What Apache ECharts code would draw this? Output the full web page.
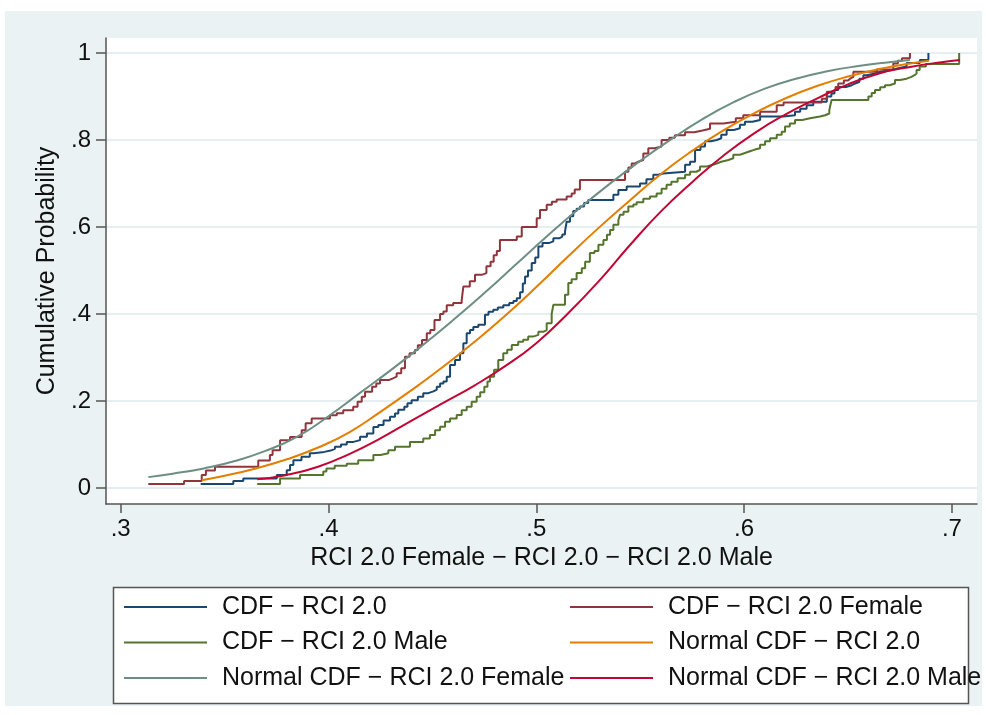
<!DOCTYPE html>
<html>
<head>
<meta charset="utf-8">
<script src="https://cdn.jsdelivr.net/npm/echarts@6.0.0/dist/echarts.min.js"></script>
<style>
html,body{margin:0;padding:0;background:#fff;}
#bg{position:absolute;left:5px;top:11px;width:977px;height:695px;background:#eaf2f3;}
#chart{position:absolute;left:0;top:0;width:986px;height:715px;}
</style>
</head>
<body>
<div id="bg"></div>
<div id="chart"></div>
<script>
// ---------- data ----------
const xTicks = [0.3, 0.4, 0.5, 0.6, 0.7];
const yTicks = [0, 0.2, 0.4, 0.6, 0.8, 1];

const seriesNames = [
  'CDF \u2212 RCI 2.0',
  'CDF \u2212 RCI 2.0 Female',
  'CDF \u2212 RCI 2.0 Male',
  'Normal CDF \u2212 RCI 2.0',
  'Normal CDF \u2212 RCI 2.0 Female',
  'Normal CDF \u2212 RCI 2.0 Male'
];

// empirical CDF, total
const totalX = [0.3385,0.3542,0.3590,0.3751,0.3799,0.3815,0.3831,0.3870,0.3910,0.3927,0.3980,0.4010,0.4031,0.4060,0.4088,0.4120,0.4152,0.4185,0.4216,0.4240,0.4265,0.4296,0.4320,0.4336,0.4365,0.4380,0.4400,0.4430,0.4456,0.4480,0.4505,0.4521,0.4537,0.4553,0.4569,0.4585,0.4609,0.4633,0.4649,0.4665,0.4681,0.4697,0.4721,0.4753,0.4770,0.4793,0.4815,0.4841,0.4870,0.4890,0.4906,0.4922,0.4935,0.4946,0.4960,0.4978,0.4995,0.5010,0.5030,0.5060,0.5082,0.5110,0.5125,0.5138,0.5146,0.5162,0.5178,0.5194,0.5210,0.5230,0.5250,0.5371,0.5395,0.5435,0.5499,0.5530,0.5563,0.5587,0.5611,0.5716,0.5740,0.5764,0.5790,0.5812,0.5840,0.5868,0.5890,0.5916,0.5950,0.5980,0.6004,0.6040,0.6077,0.6189,0.6245,0.6270,0.6301,0.6333,0.6398,0.6420,0.6435,0.6453,0.6490,0.6518,0.6535,0.6555,0.6574,0.6590,0.6630,0.6654,0.6710,0.6742,0.6782,0.6846,0.6887];
const totalF = [0.009,0.016,0.022,0.030,0.041,0.053,0.064,0.072,0.080,0.083,0.086,0.090,0.095,0.100,0.106,0.110,0.118,0.125,0.140,0.145,0.155,0.164,0.171,0.180,0.187,0.195,0.202,0.210,0.218,0.222,0.226,0.233,0.240,0.245,0.256,0.283,0.294,0.310,0.333,0.356,0.363,0.370,0.375,0.398,0.405,0.410,0.415,0.420,0.425,0.430,0.436,0.450,0.470,0.486,0.500,0.517,0.530,0.555,0.563,0.567,0.574,0.578,0.583,0.589,0.612,0.625,0.637,0.642,0.647,0.655,0.662,0.674,0.685,0.693,0.700,0.710,0.720,0.723,0.727,0.743,0.750,0.777,0.785,0.797,0.800,0.804,0.812,0.823,0.827,0.835,0.842,0.846,0.854,0.857,0.865,0.872,0.880,0.888,0.900,0.907,0.915,0.922,0.926,0.930,0.934,0.941,0.949,0.953,0.957,0.961,0.965,0.969,0.977,0.984,1.000];

// empirical CDF, female
const femaleX = [0.3133,0.3305,0.3390,0.3410,0.3454,0.3662,0.3718,0.3731,0.3767,0.3815,0.3871,0.3890,0.3919,0.4007,0.4040,0.4071,0.4119,0.4140,0.4160,0.4176,0.4210,0.4230,0.4248,0.4290,0.4310,0.4328,0.4350,0.4368,0.4390,0.4416,0.4430,0.4450,0.4473,0.4490,0.4510,0.4537,0.4553,0.4569,0.4600,0.4641,0.4649,0.4680,0.4705,0.4737,0.4760,0.4780,0.4795,0.4810,0.4825,0.4906,0.4930,0.5002,0.5018,0.5050,0.5075,0.5098,0.5146,0.5170,0.5185,0.5210,0.5427,0.5443,0.5459,0.5475,0.5491,0.5515,0.5539,0.5570,0.5603,0.5640,0.5667,0.5716,0.5760,0.5800,0.5836,0.5900,0.5960,0.5996,0.6077,0.6157,0.6190,0.6374,0.6398,0.6425,0.6440,0.6453,0.6480,0.6500,0.6510,0.6526,0.6640,0.6718,0.6740,0.6760,0.6798];
const femaleF = [0.009,0.016,0.030,0.040,0.049,0.063,0.076,0.087,0.110,0.117,0.133,0.149,0.160,0.167,0.172,0.179,0.187,0.198,0.210,0.221,0.233,0.240,0.248,0.252,0.256,0.264,0.275,0.302,0.310,0.317,0.328,0.340,0.356,0.363,0.386,0.400,0.406,0.420,0.425,0.432,0.463,0.475,0.490,0.494,0.510,0.520,0.535,0.545,0.570,0.578,0.600,0.620,0.639,0.651,0.658,0.663,0.670,0.677,0.686,0.708,0.727,0.737,0.746,0.750,0.754,0.769,0.781,0.785,0.800,0.805,0.811,0.818,0.822,0.826,0.838,0.842,0.850,0.857,0.865,0.880,0.886,0.895,0.911,0.915,0.922,0.930,0.937,0.941,0.945,0.957,0.962,0.976,0.982,0.988,1.000];

// empirical CDF, male
const maleX = [0.3657,0.3767,0.3863,0.3975,0.3990,0.4030,0.4088,0.4143,0.4216,0.4250,0.4288,0.4320,0.4392,0.4456,0.4488,0.4513,0.4537,0.4561,0.4585,0.4617,0.4641,0.4665,0.4689,0.4713,0.4730,0.4750,0.4765,0.4777,0.4797,0.4817,0.4841,0.4860,0.4882,0.4913,0.4937,0.4961,0.4985,0.5010,0.5034,0.5050,0.5074,0.5082,0.5138,0.5154,0.5170,0.5194,0.5219,0.5235,0.5258,0.5280,0.5299,0.5323,0.5340,0.5355,0.5371,0.5395,0.5403,0.5420,0.5443,0.5467,0.5483,0.5515,0.5547,0.5579,0.5603,0.5627,0.5650,0.5680,0.5716,0.5740,0.5770,0.5788,0.5820,0.5850,0.5868,0.5890,0.5924,0.5948,0.5980,0.6004,0.6028,0.6052,0.6077,0.6101,0.6125,0.6157,0.6181,0.6197,0.6220,0.6245,0.6280,0.6317,0.6365,0.6390,0.6410,0.6415,0.6421,0.6598,0.6614,0.6630,0.6655,0.6678,0.6700,0.6726,0.6750,0.6782,0.6805,0.6820,0.6830,0.6845,0.6875,0.7035];
const maleF = [0.009,0.022,0.030,0.038,0.045,0.051,0.056,0.064,0.076,0.080,0.087,0.095,0.106,0.114,0.122,0.133,0.141,0.152,0.160,0.168,0.179,0.187,0.198,0.210,0.220,0.233,0.245,0.256,0.272,0.294,0.310,0.318,0.329,0.336,0.341,0.348,0.352,0.359,0.363,0.379,0.400,0.421,0.444,0.471,0.480,0.494,0.505,0.520,0.540,0.545,0.559,0.570,0.582,0.593,0.605,0.616,0.628,0.635,0.647,0.652,0.657,0.665,0.670,0.677,0.688,0.697,0.704,0.712,0.720,0.727,0.731,0.739,0.743,0.746,0.750,0.754,0.758,0.766,0.770,0.774,0.778,0.781,0.789,0.797,0.804,0.812,0.819,0.831,0.838,0.846,0.850,0.854,0.857,0.861,0.868,0.880,0.892,0.900,0.908,0.915,0.921,0.926,0.930,0.938,0.941,0.945,0.949,0.953,0.961,0.969,0.975,1.000];

// normal CDF curves
const normTotalX = [0.339,0.350,0.365,0.380,0.395,0.410,0.425,0.440,0.455,0.470,0.485,0.500,0.515,0.530,0.545,0.560,0.575,0.590,0.605,0.620,0.635,0.650,0.665,0.680,0.689];
const normTotalF = [0.018,0.028,0.045,0.066,0.093,0.128,0.175,0.225,0.278,0.335,0.396,0.462,0.531,0.598,0.661,0.722,0.775,0.822,0.862,0.896,0.924,0.946,0.963,0.976,0.982];

const normFemaleX = [0.3133,0.325,0.340,0.355,0.370,0.385,0.400,0.415,0.430,0.445,0.460,0.475,0.490,0.505,0.520,0.535,0.550,0.565,0.580,0.595,0.610,0.625,0.640,0.655,0.670,0.6798];
const normFemaleF = [0.025,0.033,0.045,0.062,0.086,0.118,0.165,0.218,0.271,0.327,0.386,0.448,0.513,0.578,0.640,0.698,0.752,0.802,0.848,0.887,0.918,0.941,0.958,0.970,0.979,0.984];

const normMaleX = [0.3657,0.380,0.395,0.410,0.425,0.440,0.455,0.470,0.485,0.500,0.515,0.530,0.545,0.560,0.575,0.590,0.605,0.620,0.635,0.650,0.665,0.680,0.695,0.7039];
const normMaleF = [0.020,0.030,0.049,0.078,0.114,0.155,0.195,0.235,0.280,0.333,0.400,0.475,0.558,0.636,0.703,0.764,0.816,0.859,0.895,0.928,0.953,0.968,0.979,0.984];

const colors = ['#1a476f','#90353b','#55752f','#e37e00','#6e8e84','#c10534'];

// ---------- chart ----------
const FONT = '"Liberation Sans", Arial, sans-serif';
const zip = (xs, ys) => xs.map((x, i) => [x, ys[i]]);
const fmt = v => {
  const r = Math.round(v * 10) / 10;
  if (r === 0) return '0';
  if (r === 1) return '1';
  return String(r).replace(/^0/, '');
};

const stepSeries = (name, xs, ys, color) => ({
  name, type: 'line', step: 'end', data: zip(xs, ys),
  showSymbol: false, symbol: 'none', animation: false,
  lineStyle: { color, width: 2 }, itemStyle: { color }
});
const smoothSeries = (name, xs, ys, color) => ({
  name, type: 'line', smooth: 0.5, data: zip(xs, ys),
  showSymbol: false, symbol: 'none', animation: false,
  lineStyle: { color, width: 2 }, itemStyle: { color }
});

const legendCommon = {
  orient: 'vertical', top: 594, padding: 0, itemWidth: 83, itemHeight: 2,
  icon: 'rect', itemGap: 9.5, selectedMode: false,
  textStyle: { fontFamily: FONT, fontSize: 25, lineHeight: 26, color: '#111', padding: [0, 0, 0, 10] }
};

const chart = echarts.init(document.getElementById('chart'), null, { renderer: 'canvas' });
chart.setOption({
  backgroundColor: 'transparent',
  animation: false,
  color: colors,
  grid: {
    left: 106, top: 38, width: 871, height: 466,
    show: true, backgroundColor: '#ffffff', borderWidth: 0
  },
  xAxis: {
    type: 'value', min: 0.29293, max: 0.71208,
    name: 'RCI 2.0 Female \u2212 RCI 2.0 \u2212 RCI 2.0 Male',
    nameLocation: 'middle', nameGap: 37,
    nameTextStyle: { fontFamily: FONT, fontSize: 25, color: '#111' },
    axisLine: { show: true, onZero: false, lineStyle: { color: '#555', width: 1.5 } },
    axisTick: { show: true, length: 9, customValues: xTicks, lineStyle: { color: '#555', width: 1.5 } },
    axisLabel: { customValues: xTicks, formatter: fmt, margin: 13, fontFamily: FONT, fontSize: 24, color: '#111' },
    splitLine: { show: false }
  },
  yAxis: {
    type: 'value', min: -0.0368, max: 1.0345,
    name: 'Cumulative Probability',
    nameLocation: 'middle', nameGap: 42,
    nameTextStyle: { fontFamily: FONT, fontSize: 25, color: '#111' },
    axisLine: { show: true, onZero: false, lineStyle: { color: '#555', width: 1.5 } },
    axisTick: { show: true, length: 10, customValues: yTicks, lineStyle: { color: '#555', width: 1.5 } },
    axisLabel: { customValues: yTicks, formatter: fmt, margin: 15, fontFamily: FONT, fontSize: 24, color: '#111' },
    splitLine: { show: true, lineStyle: { color: '#e6eff0', width: 2 } }
  },
  graphic: [{
    type: 'rect', shape: { x: 113.5, y: 587.5, width: 855, height: 116 },
    style: { fill: '#ffffff', stroke: '#555', lineWidth: 1.5 }, silent: true
  }],
  legend: [
    Object.assign({}, legendCommon, { left: 124, data: [seriesNames[0], seriesNames[2], seriesNames[4]] }),
    Object.assign({}, legendCommon, { left: 570, data: [seriesNames[1], seriesNames[3], seriesNames[5]] })
  ],
  series: [
    stepSeries(seriesNames[0], totalX, totalF, colors[0]),
    stepSeries(seriesNames[1], femaleX, femaleF, colors[1]),
    stepSeries(seriesNames[2], maleX, maleF, colors[2]),
    smoothSeries(seriesNames[3], normTotalX, normTotalF, colors[3]),
    smoothSeries(seriesNames[4], normFemaleX, normFemaleF, colors[4]),
    smoothSeries(seriesNames[5], normMaleX, normMaleF, colors[5])
  ]
});
</script>
</body>
</html>
